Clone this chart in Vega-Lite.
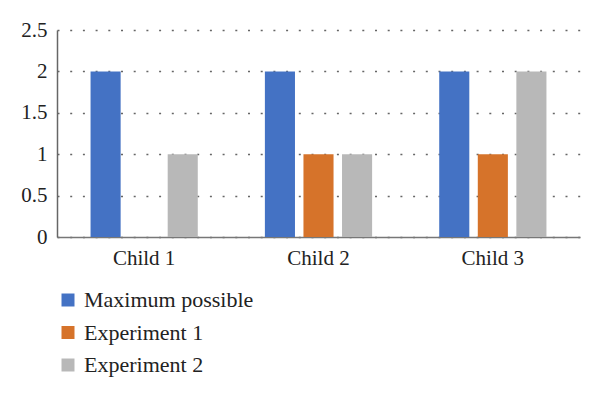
{
  "$schema": "https://vega.github.io/schema/vega-lite/v6.json",
  "width": 523,
  "height": 207,
  "autosize": {"type": "none"},
  "padding": {"left": 57, "top": 30, "right": 20, "bottom": 162},
  "background": "white",
  "config": {
    "view": {"stroke": null},
    "font": "Liberation Serif"
  },
  "data": {
    "values": [
      {"child": "Child 1", "series": "Maximum possible", "value": 2},
      {"child": "Child 1", "series": "Experiment 1", "value": 0},
      {"child": "Child 1", "series": "Experiment 2", "value": 1},
      {"child": "Child 2", "series": "Maximum possible", "value": 2},
      {"child": "Child 2", "series": "Experiment 1", "value": 1},
      {"child": "Child 2", "series": "Experiment 2", "value": 1},
      {"child": "Child 3", "series": "Maximum possible", "value": 2},
      {"child": "Child 3", "series": "Experiment 1", "value": 1},
      {"child": "Child 3", "series": "Experiment 2", "value": 2}
    ]
  },
  "mark": {"type": "bar"},
  "encoding": {
    "x": {
      "field": "child",
      "type": "nominal",
      "scale": {"paddingInner": 0, "paddingOuter": 0},
      "axis": {
        "title": null,
        "labelAngle": 0,
        "ticks": false,
        "labelFontSize": 21,
        "labelColor": "#222222",
        "labelPadding": 10,
        "domainColor": "#777777",
        "domainWidth": 1.5,
        "grid": false
      }
    },
    "xOffset": {
      "field": "series",
      "type": "nominal",
      "sort": ["Maximum possible", "Experiment 1", "Experiment 2"],
      "scale": {"paddingInner": 0.22, "paddingOuter": 0.87}
    },
    "y": {
      "field": "value",
      "type": "quantitative",
      "scale": {"domain": [0, 2.5]},
      "axis": {
        "title": null,
        "values": [0, 0.5, 1, 1.5, 2, 2.5],
        "format": "~g",
        "ticks": false,
        "labelFontSize": 21,
        "labelColor": "#222222",
        "labelPadding": 10,
        "domainColor": "#666666",
        "domainWidth": 1.5,
        "gridColor": "#666666",
        "gridDash": [2, 10.7],
        "gridWidth": 1.5
      }
    },
    "color": {
      "field": "series",
      "type": "nominal",
      "scale": {
        "domain": ["Maximum possible", "Experiment 1", "Experiment 2"],
        "range": ["#4472C4", "#D6732A", "#B8B8B8"]
      },
      "legend": {
        "title": null,
        "orient": "none",
        "legendX": 0,
        "legendY": 259,
        "direction": "vertical",
        "symbolType": "square",
        "symbolSize": 169,
        "symbolStrokeWidth": 0,
        "labelFontSize": 22,
        "labelLimit": 0,
        "labelColor": "#222222",
        "labelOffset": 5,
        "rowPadding": 10.5
      }
    }
  }
}
